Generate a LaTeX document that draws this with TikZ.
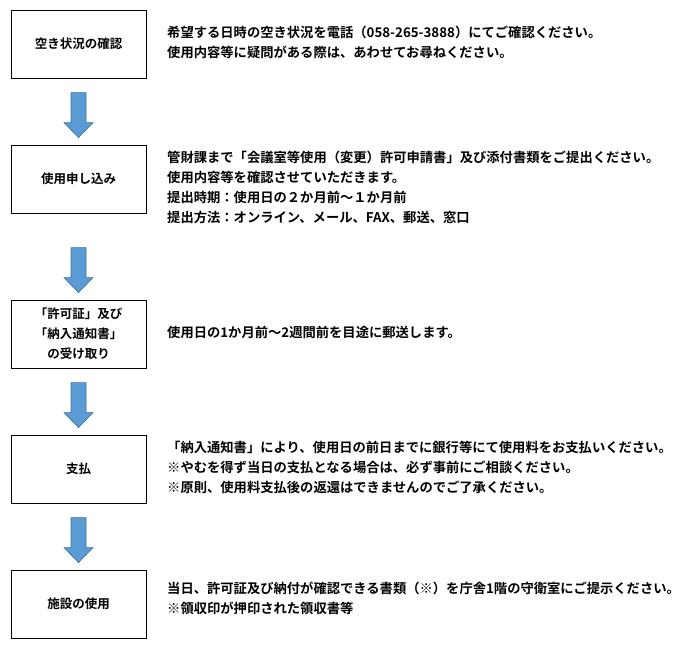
\documentclass[tikz,border=0pt]{standalone}
\usepackage{fontspec}
\setmainfont{Noto Sans CJK JP}[BoldFont={* Bold}]
\usetikzlibrary{positioning}
\definecolor{flowblue}{RGB}{91,155,213}
\definecolor{flowedge}{RGB}{65,113,156}
\tikzset{
  stepbox/.style={draw, thick, minimum width=135pt, minimum height=68pt, align=center, font=\bfseries\fontsize{12.5pt}{20pt}\selectfont, inner sep=0pt},
  note/.style={anchor=west, align=left, font=\bfseries\fontsize{13.3pt}{20pt}\selectfont, inner sep=0pt},
  blockarrow/.style={fill=flowblue, draw=flowedge, line width=0.6pt}
}
% block arrow ending just above the given box
\newcommand\flowarrow[1]{%
  \draw[blockarrow] ([shift={(-7.5,-52)}]#1.north) -- ([shift={(7.5,-52)}]#1.north)
    -- ([shift={(7.5,-22)}]#1.north) -- ([shift={(14.5,-22)}]#1.north)
    -- ([shift={(0,-7)}]#1.north) -- ([shift={(-14.5,-22)}]#1.north)
    -- ([shift={(-7.5,-22)}]#1.north) -- cycle;}
\begin{document}
\begin{tikzpicture}[x=1pt,y=-1pt]
\useasboundingbox (0,0) rectangle (690,649);
% flow boxes
\node[stepbox] (check) at (78.5,44) {空き状況の確認};
\node[stepbox] (apply) at (78.5,179) {使用申し込み};
\node[stepbox] (permit) at (78.5,334) {「許可証」及び\\「納入通知書」\\の受け取り};
\node[stepbox] (pay) at (78.5,469) {支払};
\node[stepbox] (use) at (78.5,604) {施設の使用};
% arrows between boxes
\flowarrow{apply}
\flowarrow{permit}
\flowarrow{pay}
\flowarrow{use}
% descriptions
\node[note] (t1) at (167,42) {希望する日時の空き状況を電話（058-265-3888）にてご確認ください。\\使用内容等に疑問がある際は、あわせてお尋ねください。};
\node[note] (t2) at (167,187) {管財課まで「会議室等使用（変更）許可申請書」及び添付書類をご提出ください。\\使用内容等を確認させていただきます。\\提出時期：使用日の２か月前～１か月前\\提出方法：オンライン、メール、FAX、郵送、窓口};
\node[note] (t3) at (167,332) {使用日の1か月前～2週間前を目途に郵送します。};
\node[note] (t4) at (167,467) {「納入通知書」により、使用日の前日までに銀行等にて使用料をお支払いください。\\※やむを得ず当日の支払となる場合は、必ず事前にご相談ください。\\※原則、使用料支払後の返還はできませんのでご了承ください。};
\node[note] (t5) at (167,598) {当日、許可証及び納付が確認できる書類（※）を庁舎1階の守衛室にご提示ください。\\※領収印が押印された領収書等};
\end{tikzpicture}
\end{document}
